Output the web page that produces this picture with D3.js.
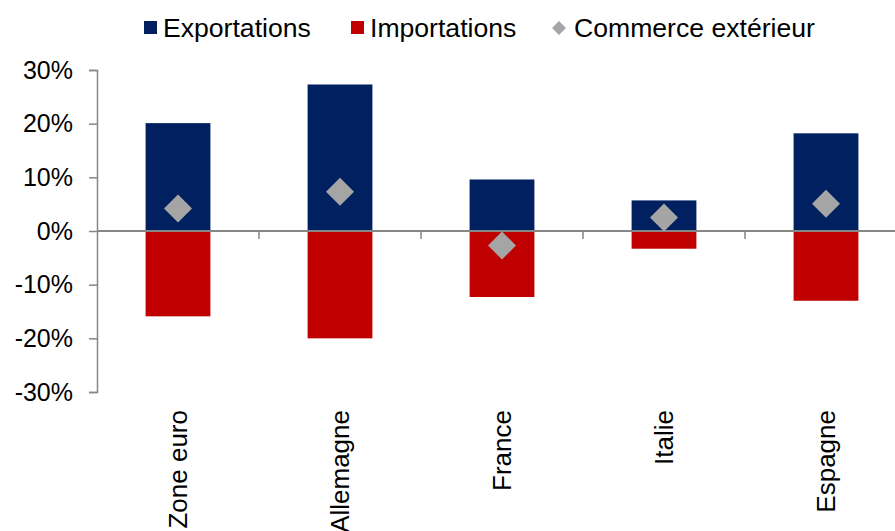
<!DOCTYPE html>
<html>
<head>
<meta charset="utf-8">
<script src="https://cdn.jsdelivr.net/npm/d3@7"></script>
<style>
  body { margin: 0; background: #fff; }
  svg { display: block; font-family: "Liberation Sans", Arial, sans-serif; }
</style>
</head>
<body>
<svg width="895" height="531"></svg>
<script>
const categories = ['Zone euro', 'Allemagne', 'France', 'Italie', 'Espagne'];
const exportations = [20.1, 27.3, 9.6, 5.7, 18.2];
const importations = [-15.9, -20.0, -12.3, -3.3, -13.0];
const commerce = [4.2, 7.3, -2.7, 2.5, 5.1];
const yTicks = [-30, -20, -10, 0, 10, 20, 30];

const svg = d3.select('svg');
const axisColor = '#868686';

// echelles
const x = d3.scaleBand()
  .domain(categories)
  .range([97, 907])
  .paddingInner(0.6)
  .paddingOuter(0.3);

const y = d3.scaleLinear()
  .domain([-30, 30])
  .range([392, 70]);

// barres
const bars = svg.append('g');
bars.selectAll('rect.exp')
  .data(categories)
  .join('rect')
  .attr('class', 'exp')
  .attr('x', d => x(d))
  .attr('width', x.bandwidth())
  .attr('y', (d, i) => y(exportations[i]))
  .attr('height', (d, i) => y(0) - y(exportations[i]))
  .attr('fill', '#002060');

bars.selectAll('rect.imp')
  .data(categories)
  .join('rect')
  .attr('class', 'imp')
  .attr('x', d => x(d))
  .attr('width', x.bandwidth())
  .attr('y', y(0))
  .attr('height', (d, i) => y(importations[i]) - y(0))
  .attr('fill', '#C00000');

// axe y
const yAxis = svg.append('g')
  .attr('transform', 'translate(97,0)')
  .call(d3.axisLeft(y).tickValues(yTicks).tickSize(8).tickPadding(16).tickFormat(d => d + '%'));
yAxis.select('.domain').attr('stroke', axisColor).attr('stroke-width', 1.5);
yAxis.selectAll('.tick line').attr('stroke', axisColor).attr('stroke-width', 1.5);
yAxis.selectAll('.tick text')
  .attr('fill', '#000')
  .style('font-size', '25px')
  .attr('font-family', '"Liberation Sans", Arial, sans-serif');

// axe x (ligne du zéro)
const step = x.step();
const xg = svg.append('g');
xg.append('line')
  .attr('x1', x.range()[0]).attr('x2', x.range()[1])
  .attr('y1', y(0)).attr('y2', y(0))
  .attr('stroke', axisColor).attr('stroke-width', 1.8);
xg.selectAll('line.tk')
  .data(categories.slice(1))
  .join('line')
  .attr('class', 'tk')
  .attr('x1', d => x(d) - (step - x.bandwidth()) / 2)
  .attr('x2', d => x(d) - (step - x.bandwidth()) / 2)
  .attr('y1', y(0)).attr('y2', y(0) + 8)
  .attr('stroke', axisColor).attr('stroke-width', 1.5);

// étiquettes des catégories
xg.selectAll('text')
  .data(categories)
  .join('text')
  .attr('transform', d => `translate(${x(d) + x.bandwidth() / 2},410) rotate(-90)`)
  .attr('text-anchor', 'end')
  .attr('dy', '0.35em')
  .style('font-size', '26px')
  .attr('fill', '#000')
  .text(d => d);

// losanges
const half = 14;
svg.append('g').selectAll('path')
  .data(categories)
  .join('path')
  .attr('transform', (d, i) => `translate(${x(d) + x.bandwidth() / 2},${y(commerce[i])})`)
  .attr('d', `M0,${-half}L${half},0L0,${half}L${-half},0Z`)
  .attr('fill', '#A5A5A5');

// légende
const legend = svg.append('g');
const items = [
  {label: 'Exportations', color: '#002060', type: 'rect', x: 144},
  {label: 'Importations', color: '#C00000', type: 'rect', x: 351},
  {label: 'Commerce extérieur', color: '#A5A5A5', type: 'diamond', x: 553}
];
items.forEach(it => {
  if (it.type === 'rect') {
    legend.append('rect')
      .attr('x', it.x).attr('y', 21)
      .attr('width', 13).attr('height', 13)
      .attr('fill', it.color);
  } else {
    legend.append('path')
      .attr('transform', `translate(${it.x + 6},28)`)
      .attr('d', 'M0,-7L7,0L0,7L-7,0Z')
      .attr('fill', it.color);
  }
  legend.append('text')
    .attr('x', it.type === 'rect' ? it.x + 19 : it.x + 21)
    .attr('y', 37)
    .style('font-size', '26.6px')
    .attr('fill', '#000')
    .text(it.label);
});
</script>
</body>
</html>
